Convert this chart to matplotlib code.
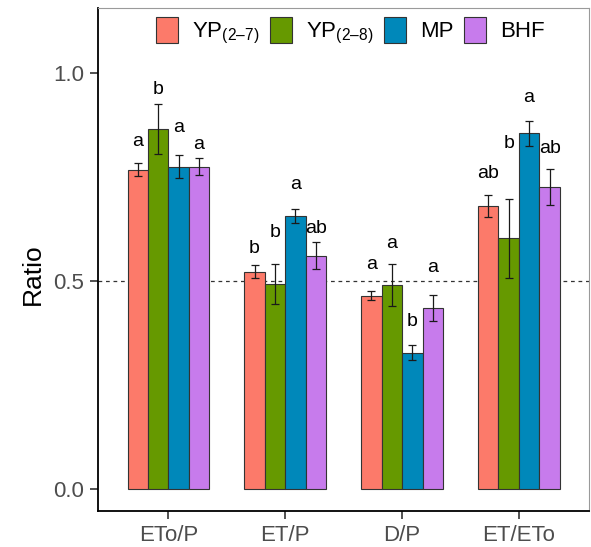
import matplotlib
matplotlib.use("Agg")
import matplotlib.pyplot as plt
import numpy as np
from matplotlib.patches import Patch

plt.rcParams['font.family'] = ['Liberation Sans', 'DejaVu Sans']
plt.rcParams['mathtext.fontset'] = 'custom'
plt.rcParams['mathtext.rm'] = 'Liberation Sans'
plt.rcParams['mathtext.default'] = 'regular'

# ratios per indicator
categories = ['ETo/P', 'ET/P', 'D/P', 'ET/ETo']
series = ['YP27', 'YP28', 'MP', 'BHF']
series_labels = ['$YP_{(2\u20137)}$', '$YP_{(2\u20138)}$', 'MP', 'BHF']

yp27 = [0.767, 0.522, 0.464, 0.680]
yp28 = [0.865, 0.492, 0.490, 0.602]
mp = [0.774, 0.656, 0.327, 0.854]
bhf = [0.774, 0.560, 0.435, 0.725]

yp27_se = [0.015, 0.016, 0.011, 0.027]
yp28_se = [0.060, 0.047, 0.050, 0.095]
mp_se = [0.027, 0.017, 0.018, 0.030]
bhf_se = [0.020, 0.032, 0.031, 0.044]

# significance letters and the height they sit at
yp27_sig = ['a', 'b', 'a', 'ab']
yp28_sig = ['b', 'b', 'a', 'b']
mp_sig = ['a', 'a', 'b', 'a']
bhf_sig = ['a', 'ab', 'a', 'ab']

yp27_sig_y = [0.834, 0.578, 0.540, 0.758]
yp28_sig_y = [0.960, 0.616, 0.589, 0.830]
mp_sig_y = [0.868, 0.730, 0.402, 0.939]
bhf_sig_y = [0.826, 0.625, 0.532, 0.817]

colors = ['#FC7A6A', '#669900', '#0088BA', '#C77BEC']

means = [yp27, yp28, mp, bhf]
ses = [yp27_se, yp28_se, mp_se, bhf_se]
sigs = [yp27_sig, yp28_sig, mp_sig, bhf_sig]
sig_ys = [yp27_sig_y, yp28_sig_y, mp_sig_y, bhf_sig_y]

W, H = 591, 547
fig = plt.figure(figsize=(W / 100, H / 100), dpi=100)
ax = fig.add_axes([98.3 / W, (H - 511) / H, (589 - 98.3) / W, (511 - 8) / H])

x = np.arange(1, len(categories) + 1)
bw = 0.175
for i in range(4):
    pos = x + (i - 1.5) * bw
    ax.bar(pos, means[i], width=bw, color=colors[i], edgecolor='#333333',
           linewidth=0.8, zorder=2)
    ax.errorbar(pos, means[i], yerr=ses[i], fmt='none', ecolor='#1a1a1a',
                elinewidth=0.9, capsize=2.6, capthick=0.9, zorder=3)
    for xp, yv, s in zip(pos, sig_ys[i], sigs[i]):
        ax.text(xp, yv, s, ha='center', va='center', fontsize=14, color='black')

ax.axhline(0.5, color='#333333', linestyle=(0, (3, 3)), linewidth=0.9, zorder=1)

ax.set_xlim(0.4, 4.6)
ax.set_ylim(-0.053, 1.155)
ax.set_xticks(x)
ax.set_xticklabels(categories)
ax.set_yticks([0.0, 0.5, 1.0])
ax.set_yticklabels(['0.0', '0.5', '1.0'])
ax.tick_params(axis='both', labelsize=16, labelcolor='#4D4D4D', length=6,
               width=1.2, color='#333333', pad=4)
ax.set_ylabel('Ratio', fontsize=19, color='black')
ax.yaxis.set_label_coords(-0.108, 0.47)

for side in ['left', 'bottom']:
    ax.spines[side].set_color('black')
    ax.spines[side].set_linewidth(1.3)
for side in ['top', 'right']:
    ax.spines[side].set_color('#9a9a9a')
    ax.spines[side].set_linewidth(0.8)

handles = [Patch(facecolor=c, edgecolor='#333333', linewidth=0.8) for c in colors]
ax.legend(handles, series_labels, loc='upper left', ncol=4, frameon=False,
          bbox_to_anchor=((155.7 - 98.3) / 490.7, 1 - 9.0 / 503),
          borderaxespad=0, borderpad=0, fontsize=16, handlelength=1.0,
          handleheight=1.4, handletextpad=0.65, columnspacing=0.45)

fig.savefig('out.png', dpi=100)
